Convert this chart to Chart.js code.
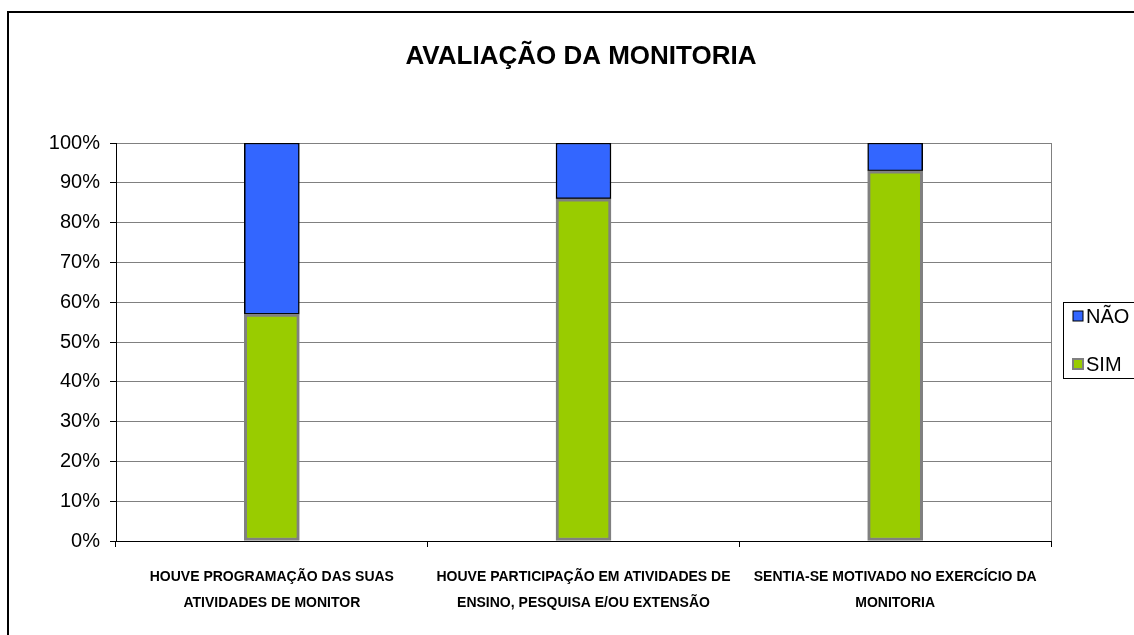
<!DOCTYPE html>
<html>
<head>
<meta charset="utf-8">
<script src="https://cdn.jsdelivr.net/npm/chart.js@4"></script>
<style>
  html, body { margin: 0; padding: 0; background: #fff; overflow: hidden; }
  #wrap { position: relative; width: 1134px; height: 635px; }
  #frame { position: absolute; left: 7px; top: 11px; width: 1200px; height: 700px;
           border-left: 2px solid #000; border-top: 2px solid #000; pointer-events: none; }
</style>
</head>
<body>
<div id="wrap">
  <canvas id="chart" width="1134" height="635"></canvas>
  <div id="frame"></div>
</div>
<script>
  const categories = [
    ['HOUVE PROGRAMAÇÃO DAS SUAS', 'ATIVIDADES DE MONITOR'],
    ['HOUVE PARTICIPAÇÃO EM ATIVIDADES DE', 'ENSINO, PESQUISA E/OU EXTENSÃO'],
    ['SENTIA-SE MOTIVADO NO EXERCÍCIO DA', 'MONITORIA']
  ];
  const simValues = [57, 86, 93];
  const naoValues = [43, 14, 7];
  const yTicks = [0, 10, 20, 30, 40, 50, 60, 70, 80, 90, 100];

  const narrow = '"Liberation Sans Narrow", "Arial Narrow", "Liberation Sans", Arial, sans-serif';

  // title, right border of plot area and legend box
  const extras = {
    id: 'extras',
    afterDraw(chart) {
      const ctx = chart.ctx;
      const area = chart.chartArea;
      ctx.save();
      ctx.strokeStyle = '#808080';
      ctx.lineWidth = 1;
      ctx.beginPath();
      ctx.moveTo(area.right + 0.5, area.top);
      ctx.lineTo(area.right + 0.5, area.bottom);
      ctx.stroke();

      ctx.fillStyle = '#000';
      ctx.font = 'bold 26px ' + narrow;
      ctx.textAlign = 'center';
      ctx.textBaseline = 'middle';
      ctx.fillText('AVALIAÇÃO DA MONITORIA', 581, 57);

      // legend
      ctx.strokeStyle = '#000';
      ctx.lineWidth = 1;
      ctx.strokeRect(1063.5, 302.5, 90, 76);
      const items = [
        { label: 'NÃO', fill: '#3366FF', border: '#000', bw: 1, y: 316 },
        { label: 'SIM', fill: '#99CC00', border: '#808080', bw: 2, y: 364 }
      ];
      ctx.font = '20px ' + narrow;
      ctx.textAlign = 'left';
      items.forEach(it => {
        ctx.fillStyle = it.fill;
        ctx.fillRect(1073, it.y - 5, 10, 10);
        ctx.strokeStyle = it.border;
        ctx.lineWidth = it.bw;
        ctx.strokeRect(1073, it.y - 5, 10, 10);
        ctx.fillStyle = '#000';
        ctx.fillText(it.label, 1086, it.y + 1);
      });
      ctx.restore();
    }
  };

  new Chart(document.getElementById('chart'), {
    type: 'bar',
    data: {
      labels: categories,
      datasets: [
        {
          label: 'SIM',
          data: simValues,
          backgroundColor: '#99CC00',
          borderColor: '#808080',
          borderWidth: 3,
          borderSkipped: false,
          barThickness: 55
        },
        {
          label: 'NÃO',
          data: naoValues,
          backgroundColor: '#3366FF',
          borderColor: '#000',
          borderWidth: 1.5,
          borderSkipped: false,
          barThickness: 55
        }
      ]
    },
    options: {
      responsive: false,
      animation: false,
      layout: { padding: { left: 0, right: 83, top: 143, bottom: 0 } },
      plugins: {
        legend: { display: false },
        title: { display: false },
        tooltip: { enabled: false }
      },
      scales: {
        x: {
          stacked: true,
          afterFit: s => { s.height = 94; },
          grid: { drawOnChartArea: false, color: '#000', tickLength: 6, offset: true },
          border: { color: '#000', width: 1 },
          ticks: {
            color: '#000',
            maxRotation: 0,
            autoSkip: false,
            padding: 18,
            font: { family: narrow, size: 14, weight: 'bold', lineHeight: 1.8 }
          }
        },
        y: {
          stacked: true,
          min: 0,
          max: 100,
          afterFit: s => { s.width = 116; },
          afterBuildTicks: s => { s.ticks = yTicks.map(v => ({ value: v })); },
          grid: { color: '#808080', tickColor: '#000', tickLength: 6 },
          border: { color: '#000', width: 1 },
          ticks: {
            color: '#000',
            padding: 10,
            font: { family: narrow, size: 20 },
            callback: v => v + '%'
          }
        }
      }
    },
    plugins: [extras]
  });
</script>
</body>
</html>
